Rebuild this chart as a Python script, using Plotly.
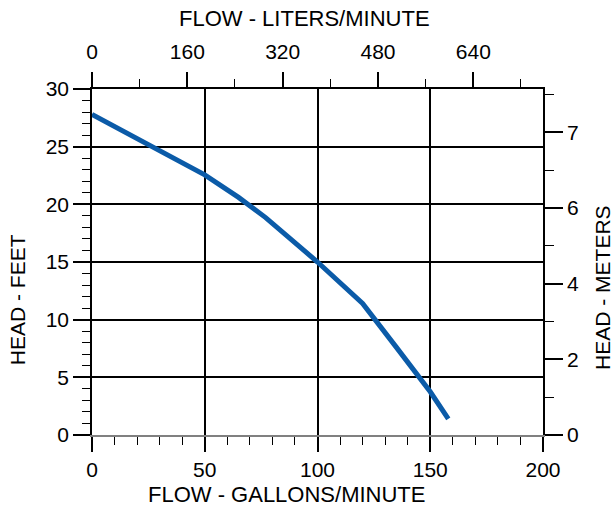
import plotly.graph_objects as go

# ---- data ----
flow_gpm = [0, 25, 50, 65, 77, 100, 120, 135, 150, 158]
head_ft = [27.8, 25.2, 22.55, 20.6, 18.85, 15.0, 11.4, 7.6, 3.75, 1.4]

gpm_ticks = [0, 50, 100, 150, 200]
ft_ticks = [0, 5, 10, 15, 20, 25, 30]
lpm_ticks = [0, 160, 320, 480, 640]
lpm_minor = [80, 240, 400, 560, 720]
m_tickvals = [0, 2, 4, 6, 8]
m_ticktext = ["0", "2", "4", "6", "7"]
m_minor = [1, 3, 5, 7, 9]

GPM_MAX = 200
FT_MAX = 30
GPM_TO_LPM = 3.785
FT_TO_M = 0.3048

FONT = "Liberation Sans, Arial, Helvetica, sans-serif"
BLUE = "#0b5ba8"

fig = go.Figure()
fig.add_trace(go.Scatter(x=flow_gpm, y=head_ft, mode="lines",
                         line=dict(color=BLUE, width=5),
                         xaxis="x", yaxis="y", hoverinfo="skip", showlegend=False))
# helper traces so the secondary axes are drawn
fig.add_trace(go.Scatter(x=[None], y=[None], xaxis="x2", yaxis="y", showlegend=False))
fig.add_trace(go.Scatter(x=[None], y=[None], xaxis="x", yaxis="y2", showlegend=False))

fig.update_layout(
    width=615, height=506,
    margin=dict(l=92, r=72, t=89, b=71),
    plot_bgcolor="white", paper_bgcolor="white",
    showlegend=False,
    font=dict(family=FONT, size=21, color="black"),
    xaxis=dict(
        range=[0, GPM_MAX], tickvals=gpm_ticks, ticks="outside", ticklen=15,
        tickwidth=1.5, tickcolor="black", showgrid=True, gridcolor="black",
        gridwidth=1.5, showline=True, linecolor="#808080", linewidth=1.5,
        zeroline=False, automargin=False,
        minor=dict(tickvals=list(range(10, 200, 10)), ticks="outside", ticklen=8,
                   tickwidth=1, tickcolor="black", showgrid=False),
    ),
    yaxis=dict(
        range=[0, FT_MAX], tickvals=ft_ticks, ticks="outside", ticklen=17,
        tickwidth=1.5, tickcolor="black", showgrid=True, gridcolor="black",
        gridwidth=1.5, showline=True, linecolor="black", linewidth=1.5,
        zeroline=False, automargin=False,
        minor=dict(tickvals=list(range(1, 30)), ticks="outside", ticklen=8,
                   tickwidth=1, tickcolor="black", showgrid=False),
    ),
    xaxis2=dict(
        overlaying="x", side="top", anchor="y",
        range=[0, GPM_MAX * GPM_TO_LPM], tickvals=lpm_ticks, ticks="outside",
        ticklen=15, tickwidth=1.5, tickcolor="black", showgrid=False,
        showline=True, linecolor="black", linewidth=1.5, zeroline=False,
        automargin=False, ticklabelstandoff=5,
        minor=dict(tickvals=lpm_minor, ticks="outside", ticklen=8, tickwidth=1,
                   tickcolor="black", showgrid=False),
    ),
    yaxis2=dict(
        overlaying="y", side="right", anchor="x",
        range=[0, FT_MAX * FT_TO_M], tickvals=m_tickvals, ticktext=m_ticktext,
        ticks="outside", ticklen=18, tickwidth=1.5, tickcolor="black",
        showgrid=False, showline=True, linecolor="black", linewidth=1.5,
        zeroline=False, automargin=False,
        minor=dict(tickvals=m_minor, ticks="outside", ticklen=9, tickwidth=1,
                   tickcolor="black", showgrid=False),
    ),
)

# axis titles (placed like the reference, not centred on the plot)
title_common = dict(xref="paper", yref="paper", showarrow=False,
                    xanchor="center", yanchor="middle")
fig.add_annotation(text="FLOW - LITERS/MINUTE", x=0.472, y=1.205,
                   font=dict(family=FONT, size=22, color="black"), **title_common)
fig.add_annotation(text="FLOW - GALLONS/MINUTE", x=0.432, y=-0.172,
                   font=dict(family=FONT, size=22, color="black"), **title_common)
fig.add_annotation(text="HEAD - FEET", x=-0.166, y=0.39, textangle=-90,
                   font=dict(family=FONT, size=21, color="black"), **title_common)
fig.add_annotation(text="HEAD - METERS", x=1.133, y=0.428, textangle=-90,
                   font=dict(family=FONT, size=21, color="black"), **title_common)

fig.write_html(
    "out.html",
    config={"displayModeBar": False},
    post_script="document.body.style.margin='0';document.body.style.overflow='hidden';",
)
